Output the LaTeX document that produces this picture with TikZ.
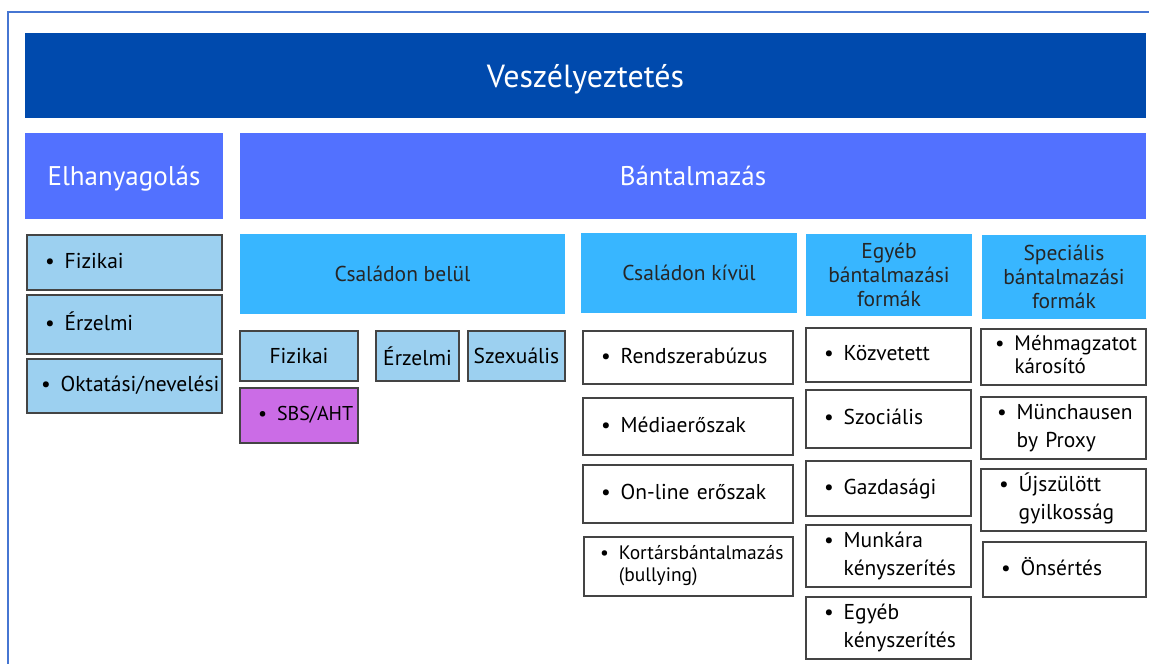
\documentclass[tikz,border=0pt]{standalone}
\usepackage{fontspec}
\setmainfont{PT Sans}

\definecolor{navy}{HTML}{004AAD}
\definecolor{bandblue}{HTML}{5271FF}
\definecolor{sky}{HTML}{38B6FF}
\definecolor{pale}{RGB}{156,208,240}
\definecolor{lilac}{HTML}{CB6CE6}
\definecolor{rim}{HTML}{444444}
\definecolor{framec}{RGB}{70,118,210}

% bullet with hanging lines
\newcommand{\itm}[1]{\hspace*{18pt}\textbullet\hspace{10pt}\begin{tabular}[t]{@{}l@{}}#1\end{tabular}}

\tikzset{
  box/.style={anchor=north west, inner sep=0pt, outer sep=0pt},
  toptitle/.style={box, fill=navy, text=white, text depth=0pt, font=\fontsize{32}{38}\selectfont},
  band/.style={box, fill=bandblue, text=white, text depth=0pt, font=\fontsize{27}{32}\selectfont},
  head/.style={box, fill=sky, text=black!85, align=center, font=\fontsize{21.5}{24}\selectfont},
  sub/.style={box, draw=rim, line width=1.3pt, fill=pale, font=\fontsize{21.5}{28}\selectfont},
  bul/.style={box, draw=rim, line width=1.3pt, fill=white, align=left,
    text width=#1pt, font=\fontsize{21.5}{28}\selectfont},
}

\begin{document}
\begin{tikzpicture}[x=1pt, y=-1pt]
    \useasboundingbox (0,0) rectangle (1149,664);

    % --- frame ---
    \draw[framec, line width=1.6pt] (8,664) -- (8,12) -- (1149,12);

    % --- 1. top rows ---
    \node[toptitle, minimum width=1121, minimum height=85] (vesz) at (25,33) {Veszélyeztetés};
    \node[band, minimum width=198, minimum height=86] (elh) at (25,133) {Elhanyagolás};
    \node[band, minimum width=906, minimum height=86] (bant) at (240,133) {Bántalmazás};

    % --- 2. elhanyagolás ---
    \node[sub, align=left, text width=195pt, minimum height=55] (elhfiz) at (27,235) {\itm{Fizikai}};
    \node[sub, align=left, text width=195pt, minimum height=59] (elherz) at (27,295) {\itm{Érzelmi}};
    \node[sub, align=left, text width=195pt, minimum height=54] (elhokt) at (27,359) {\hspace*{-4pt}\itm{Oktatási/nevelési}};

    % --- 3. headers ---
    \node[head, minimum width=325, minimum height=80] (belul) at (240,234) {Családon belül};
    \node[head, minimum width=216, minimum height=80] (kivul) at (581,233) {Családon kívül};
    \node[head, minimum width=166, minimum height=82] (egyeb) at (806,234) {Egyéb\\bántalmazási\\formák};
    \node[head, minimum width=164, minimum height=84] (spec) at (982,235) {Speciális\\bántalmazási\\formák};

    % --- 4. családon belül ---
    \node[sub, minimum width=118, minimum height=50] (bfiz) at (240,331) {Fizikai};
    \node[sub, minimum width=83, minimum height=50] (berz) at (376,331) {Érzelmi};
    \node[sub, minimum width=97, minimum height=50] (bszex) at (468,331) {Szexuális};
    \node[sub, fill=lilac, align=left, text width=118pt, minimum height=55,
      font=\fontsize{20}{24}\selectfont] (sbs) at (240,388) {\itm{SBS/AHT}};

    % --- 5. családon kívül ---
    \node[bul=210, minimum height=53] (rendsz) at (583,331) {\itm{Rendszerabúzus}};
    \node[bul=210, minimum height=57] (media) at (583,398) {\itm{Médiaerőszak}};
    \node[bul=210, minimum height=58] (online) at (583,465) {\itm{On-line erőszak}};
    \node[bul=209, minimum height=59, font=\fontsize{19.5}{22}\selectfont] (kortars) at (584,537)
      {\hspace*{-2pt}\itm{Kortársbántalmazás\\(bullying)}};

    % --- 6. egyéb formák ---
    \node[bul=165, minimum height=54] (kozv) at (806,328) {\itm{Közvetett}};
    \node[bul=165, minimum height=58] (szoc) at (806,390) {\itm{Szociális}};
    \node[bul=165, minimum height=55] (gazd) at (806,461) {\itm{Gazdasági}};
    \node[bul=165, minimum height=62] (munka) at (806,525) {\itm{Munkára\\kényszerítés}};
    \node[bul=165, minimum height=62] (egykeny) at (806,597) {\itm{Egyéb\\kényszerítés}};

    % --- 7. speciális formák ---
    \node[bul=165, minimum height=56, font=\fontsize{21}{23}\selectfont] (mehm) at (981,329) {\hspace*{-4pt}\itm{Méhmagzatot\\károsító}};
    \node[bul=165, minimum height=62] (munch) at (981,397) {\hspace*{-2pt}\itm{Münchausen\\by Proxy}};
    \node[bul=165, minimum height=62] (ujsz) at (981,469) {\itm{Újszülött\\gyilkosság}};
    \node[bul=163, minimum height=55] (onsert) at (983,542) {\itm{Önsértés}};

\end{tikzpicture}
\end{document}
